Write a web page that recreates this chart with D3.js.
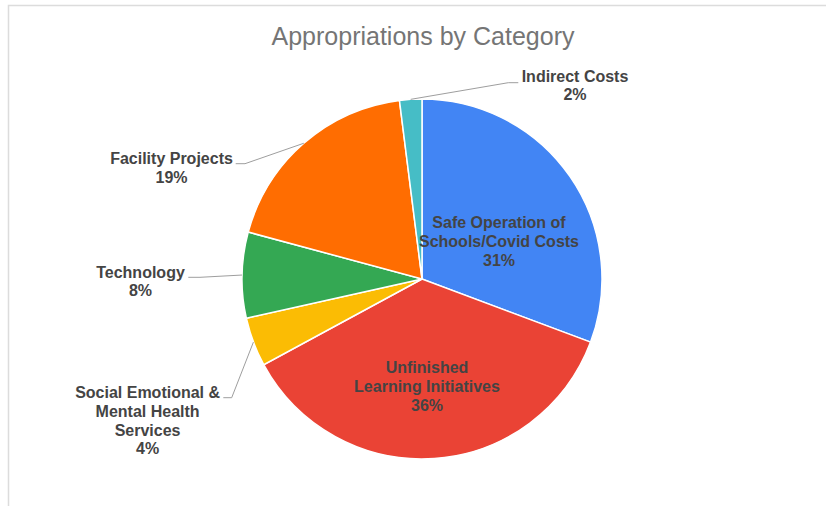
<!DOCTYPE html>
<html>

<head>
  <title>Appropriations by Category</title>
</head>
<meta charset="utf-8">
<style>
  body {
    margin: 0;
    background: #fff;
  }

  text {
    font-family: "Liberation Sans", Arial, sans-serif;
  }

  .title {
    font-size: 25px;
    fill: #757575;
  }

  .lbl {
    font-size: 16px;
    font-weight: bold;
    fill: #444;
  }

  .leader {
    fill: none;
    stroke: #9e9e9e;
    stroke-width: 1;
  }
</style>

<body>
  <svg width="826" height="506"></svg>
  <script src="https://cdn.jsdelivr.net/npm/d3@7"></script>
  <script>
    // chart data
    var categories = ["Safe Operation of Schools/Covid Costs", "Unfinished Learning Initiatives",
      "Social Emotional & Mental Health Services", "Technology", "Facility Projects", "Indirect Costs"];
    var values = [30.7, 36.4, 4.4, 7.7, 18.8, 2.0];
    var colors = ["#4285f4", "#ea4335", "#fbbc04", "#34a853", "#ff6d01", "#46bdc6"];
    // how each label wraps in the picture
    var labelLines = [
      ["Safe Operation of", "Schools/Covid Costs"],
      ["Unfinished", "Learning Initiatives"],
      ["Social Emotional &", "Mental Health", "Services"],
      ["Technology"],
      ["Facility Projects"],
      ["Indirect Costs"]
    ];

    var svg = d3.select("svg"),
      cx = 422,
      cy = 279,
      radius = 180,
      lineH = 18.7;

    // chart frame (only top/left edges visible)
    svg.append("rect")
      .attr("x", 8.5).attr("y", 5.5)
      .attr("width", 900).attr("height", 600)
      .attr("fill", "none")
      .attr("stroke", "#dcdcdc")
      .attr("stroke-width", 1.5);

    svg.append("text")
      .attr("class", "title")
      .attr("x", 423)
      .attr("y", 45)
      .attr("text-anchor", "middle")
      .text("Appropriations by Category");

    var data = categories.map(function(c, i) {
      return { name: c, value: values[i], color: colors[i], lines: labelLines[i] };
    });
    var total = d3.sum(values);

    var pie = d3.pie().sort(null).value(function(d) { return d.value; });
    var arc = d3.arc().innerRadius(0).outerRadius(radius);
    var edge = d3.arc().innerRadius(radius).outerRadius(radius);

    var g = svg.append("g")
      .attr("transform", "translate(" + cx + "," + cy + ")");

    var arcs = pie(data);

    g.selectAll("path.slice")
      .data(arcs)
      .enter().append("path")
      .attr("class", "slice")
      .attr("d", arc)
      .attr("fill", function(d) { return d.data.color; })
      .attr("stroke", "#fff")
      .attr("stroke-width", 1.5);

    // label placement (page coords): inside labels use centre x / first baseline,
    // outside labels also get an elbow for the leader line
    var place = [
      { x: 499, y: 228.3 },
      { x: 427, y: 373.3 },
      { x: 147.6, y: 398.3, elbow: [231.7, 397.7], end: 223.3 },
      { x: 140.5, y: 277.7, elbow: [200, 277.3], end: 188.3 },
      { x: 171.5, y: 164, elbow: [245, 163.7], end: 235.7 },
      { x: 575, y: 81.7, elbow: [508.3, 82.7], end: 518.3 }
    ];

    arcs.forEach(function(a, i) {
      var p = place[i];
      var pct = Math.round(a.data.value / total * 100) + "%";
      var lines = a.data.lines.concat([pct]);

      if (p.elbow) {
        var e = edge.centroid(a);
        var pts = [[cx + e[0], cy + e[1]], p.elbow, [p.end, p.elbow[1]]];
        svg.append("path")
          .attr("class", "leader")
          .attr("d", d3.line()(pts));
      }

      var t = svg.append("text")
        .attr("class", "lbl")
        .attr("text-anchor", "middle");
      lines.forEach(function(s, k) {
        t.append("tspan")
          .attr("x", p.x)
          .attr("y", p.y + k * lineH)
          .text(s);
      });
    });
  </script>
</body>

</html>
